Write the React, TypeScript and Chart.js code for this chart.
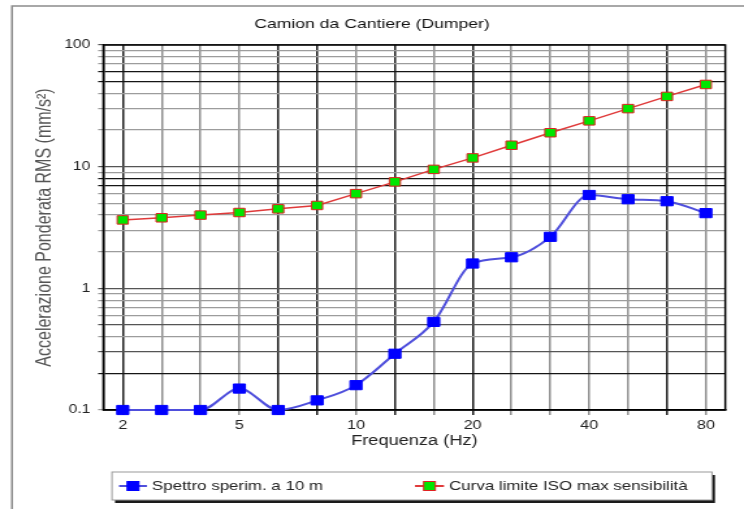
import React, { useEffect, useRef } from "react";
import { Chart, registerables } from "chart.js";

Chart.register(...registerables);

// ---- data ----
const chartTitle = "Camion da Cantiere (Dumper)";
const xAxisTitle = "Frequenza (Hz)";
const yAxisTitle = "Accelerazione Ponderata RMS (mm/s²)";
const frequencies = ["2", "2.5", "3.15", "5", "6.3", "8", "10", "12.5", "16", "20", "25", "31.5", "40", "50", "63", "80"];
const shownFrequencies = ["2", "5", "10", "20", "40", "80"];
const spettroLabel = "Spettro sperim. a 10 m";
const spettroValues = [0.1, 0.1, 0.1, 0.15, 0.1, 0.12, 0.16, 0.29, 0.53, 1.6, 1.8, 2.65, 5.85, 5.4, 5.2, 4.15];
const isoLabel = "Curva limite ISO max sensibilità";
const isoValues = [3.65, 3.8, 4.0, 4.2, 4.5, 4.8, 6.0, 7.5, 9.5, 11.8, 15.0, 19.0, 23.8, 30.0, 37.8, 47.4];
const yGridValues = [0.1, 0.2, 0.3, 0.4, 0.5, 0.6, 0.7, 0.8, 0.9, 1, 2, 3, 4, 5, 6, 7, 8, 9, 10, 20, 30, 40, 50, 60, 70, 80, 90, 100];
const yTickLabels = [0.1, 1, 10, 100];

// ---- layout / style ----
const W = 744;
const H = 509;
const CW = 572; // canvas drawn narrower, then stretched horizontally like the source picture
const SX = W / CW;
const px = (x: number) => x / SX;
const FONT = '"Liberation Sans", Arial, sans-serif';
const darkX = [0, 4, 5, 7, 9, 14];
const darkY = [0.2, 7, 8, 50, 60];
const midY = [0.3, 0.5, 1, 10, 100];

const decor = {
  id: "decor",
  beforeDraw(chart: any) {
    const ctx = chart.ctx;
    ctx.save();
    ctx.fillStyle = "#fff";
    ctx.fillRect(0, 0, chart.width, chart.height);
    ctx.strokeStyle = "#8c8c8c";
    ctx.lineWidth = 1.5;
    ctx.beginPath();
    ctx.moveTo(px(12), chart.height + 5);
    ctx.lineTo(px(12), 6);
    ctx.lineTo(chart.width + 5, 6);
    ctx.stroke();
    ctx.fillStyle = "#111";
    ctx.font = `13.5px ${FONT}`;
    ctx.textAlign = "center";
    ctx.textBaseline = "middle";
    ctx.fillText(chartTitle, chart.width / 2, 24);
    ctx.restore();
  },
  beforeDatasetsDraw(chart: any) {
    const ctx = chart.ctx;
    const { left, top, right, bottom } = chart.chartArea;
    ctx.save();
    ctx.strokeStyle = "#000";
    ctx.lineWidth = 1.5;
    ctx.strokeRect(left, top, right - left, bottom - top);
    ctx.restore();
  },
  afterDraw(chart: any) {
    const ctx = chart.ctx;
    const x1 = px(112);
    const x2 = px(712);
    const y1 = 472;
    const y2 = 500;
    ctx.save();
    ctx.fillStyle = "#1a1a1a";
    ctx.fillRect(x1 + px(3), y1 + 3, x2 - x1, y2 - y1);
    ctx.fillStyle = "#fff";
    ctx.fillRect(x1, y1, x2 - x1, y2 - y1);
    ctx.strokeStyle = "#9a9a9a";
    ctx.lineWidth = 1;
    ctx.strokeRect(x1, y1, x2 - x1, y2 - y1);
    const cy = 486;
    const items = [
      { ds: chart.data.datasets[0], lx1: 119, lx2: 147, text: 152 },
      { ds: chart.data.datasets[1], lx1: 415, lx2: 444, text: 449 },
    ];
    items.forEach((it) => {
      ctx.strokeStyle = it.ds.borderColor;
      ctx.lineWidth = 2;
      ctx.beginPath();
      ctx.moveTo(px(it.lx1), cy);
      ctx.lineTo(px(it.lx2), cy);
      ctx.stroke();
      const cx = px((it.lx1 + it.lx2) / 2);
      const s = 9;
      ctx.fillStyle = it.ds.pointBackgroundColor;
      ctx.fillRect(cx - s / 2, cy - s / 2, s, s);
      ctx.strokeStyle = it.ds.pointBorderColor;
      ctx.lineWidth = 1;
      ctx.strokeRect(cx - s / 2, cy - s / 2, s, s);
      ctx.fillStyle = "#222";
      ctx.font = `13px ${FONT}`;
      ctx.textAlign = "left";
      ctx.textBaseline = "middle";
      ctx.fillText(it.ds.label, px(it.text), cy);
    });
    ctx.restore();
  },
};

export default function App() {
  const canvasRef = useRef<HTMLCanvasElement | null>(null);

  useEffect(() => {
    const canvas = canvasRef.current;
    if (!canvas) return;
    const chart = new Chart(canvas, {
      type: "line",
      data: {
        labels: frequencies,
        datasets: [
          {
            label: spettroLabel,
            data: spettroValues,
            borderColor: "#4f4fdc",
            borderWidth: 2,
            pointStyle: "rect",
            pointRadius: 6.5,
            pointHoverRadius: 6.5,
            pointBackgroundColor: "#0000ff",
            pointBorderColor: "#0000ff",
            pointBorderWidth: 1,
            cubicInterpolationMode: "monotone",
            fill: false,
            clip: false,
          },
          {
            label: isoLabel,
            data: isoValues,
            borderColor: "#e03a3a",
            borderWidth: 1.5,
            pointStyle: "rect",
            pointRadius: 6,
            pointHoverRadius: 6,
            pointBackgroundColor: "#00e600",
            pointBorderColor: "#e02020",
            pointBorderWidth: 1,
            tension: 0,
            fill: false,
            clip: false,
          },
        ],
      },
      options: {
        responsive: false,
        devicePixelRatio: 1,
        animation: false,
        layout: { padding: { left: 0, right: CW - px(725.3), top: 45, bottom: H - 450 } },
        plugins: {
          legend: { display: false },
          title: { display: false },
          tooltip: { enabled: false },
        },
        scales: {
          x: {
            type: "category",
            offset: true,
            afterFit: (scale: any) => {
              scale.height = 40;
            },
            grid: {
              offset: false,
              drawTicks: true,
              tickLength: 5,
              lineWidth: 1.5,
              color: (ctx: any) => (darkX.includes(ctx.index) ? "#1c1c1c" : "#8f8f8f"),
            },
            border: { display: true, color: "#000", width: 1.5 },
            ticks: {
              autoSkip: false,
              maxRotation: 0,
              padding: 3,
              color: "#222",
              font: { family: FONT, size: 12.5 },
              callback: (_v: any, i: number) => (shownFrequencies.includes(frequencies[i]) ? frequencies[i] : ""),
            },
            title: {
              display: true,
              text: xAxisTitle,
              color: "#222",
              font: { family: FONT, size: 14 },
              padding: { top: 0, bottom: 0 },
            },
          },
          y: {
            type: "logarithmic",
            min: 0.1,
            max: 100,
            afterFit: (scale: any) => {
              scale.width = px(103.3);
            },
            afterBuildTicks: (scale: any) => {
              scale.ticks = yGridValues.map((v) => ({ value: v, major: yTickLabels.includes(v) }));
            },
            grid: {
              drawTicks: true,
              tickLength: 4,
              lineWidth: 1.2,
              color: (ctx: any) => {
                const v = ctx.tick ? ctx.tick.value : 0;
                if (darkY.includes(v)) return "#151515";
                if (midY.includes(v)) return "#555";
                return "#9c9c9c";
              },
            },
            border: { display: true, color: "#000", width: 1.5 },
            ticks: {
              autoSkip: false,
              padding: 6,
              color: "#222",
              font: { family: FONT, size: 12 },
              callback: (v: any) => (yTickLabels.includes(Number(v)) ? String(v) : ""),
            },
            title: {
              display: true,
              text: yAxisTitle,
              color: "#555",
              font: { family: FONT, size: 16 },
              padding: { top: px(45) - 9.6, bottom: 0 },
            },
          },
        },
      },
      plugins: [decor],
    } as any);
    return () => chart.destroy();
  }, []);

  return (
    <div style={{ position: "absolute", left: 0, top: 0, width: W, height: H, overflow: "hidden", background: "#fff" }}>
      <div style={{ width: CW, height: H, transform: `scaleX(${SX})`, transformOrigin: "0 0" }}>
        <canvas ref={canvasRef} width={CW} height={H} style={{ width: CW, height: H, display: "block" }} />
      </div>
    </div>
  );
}
